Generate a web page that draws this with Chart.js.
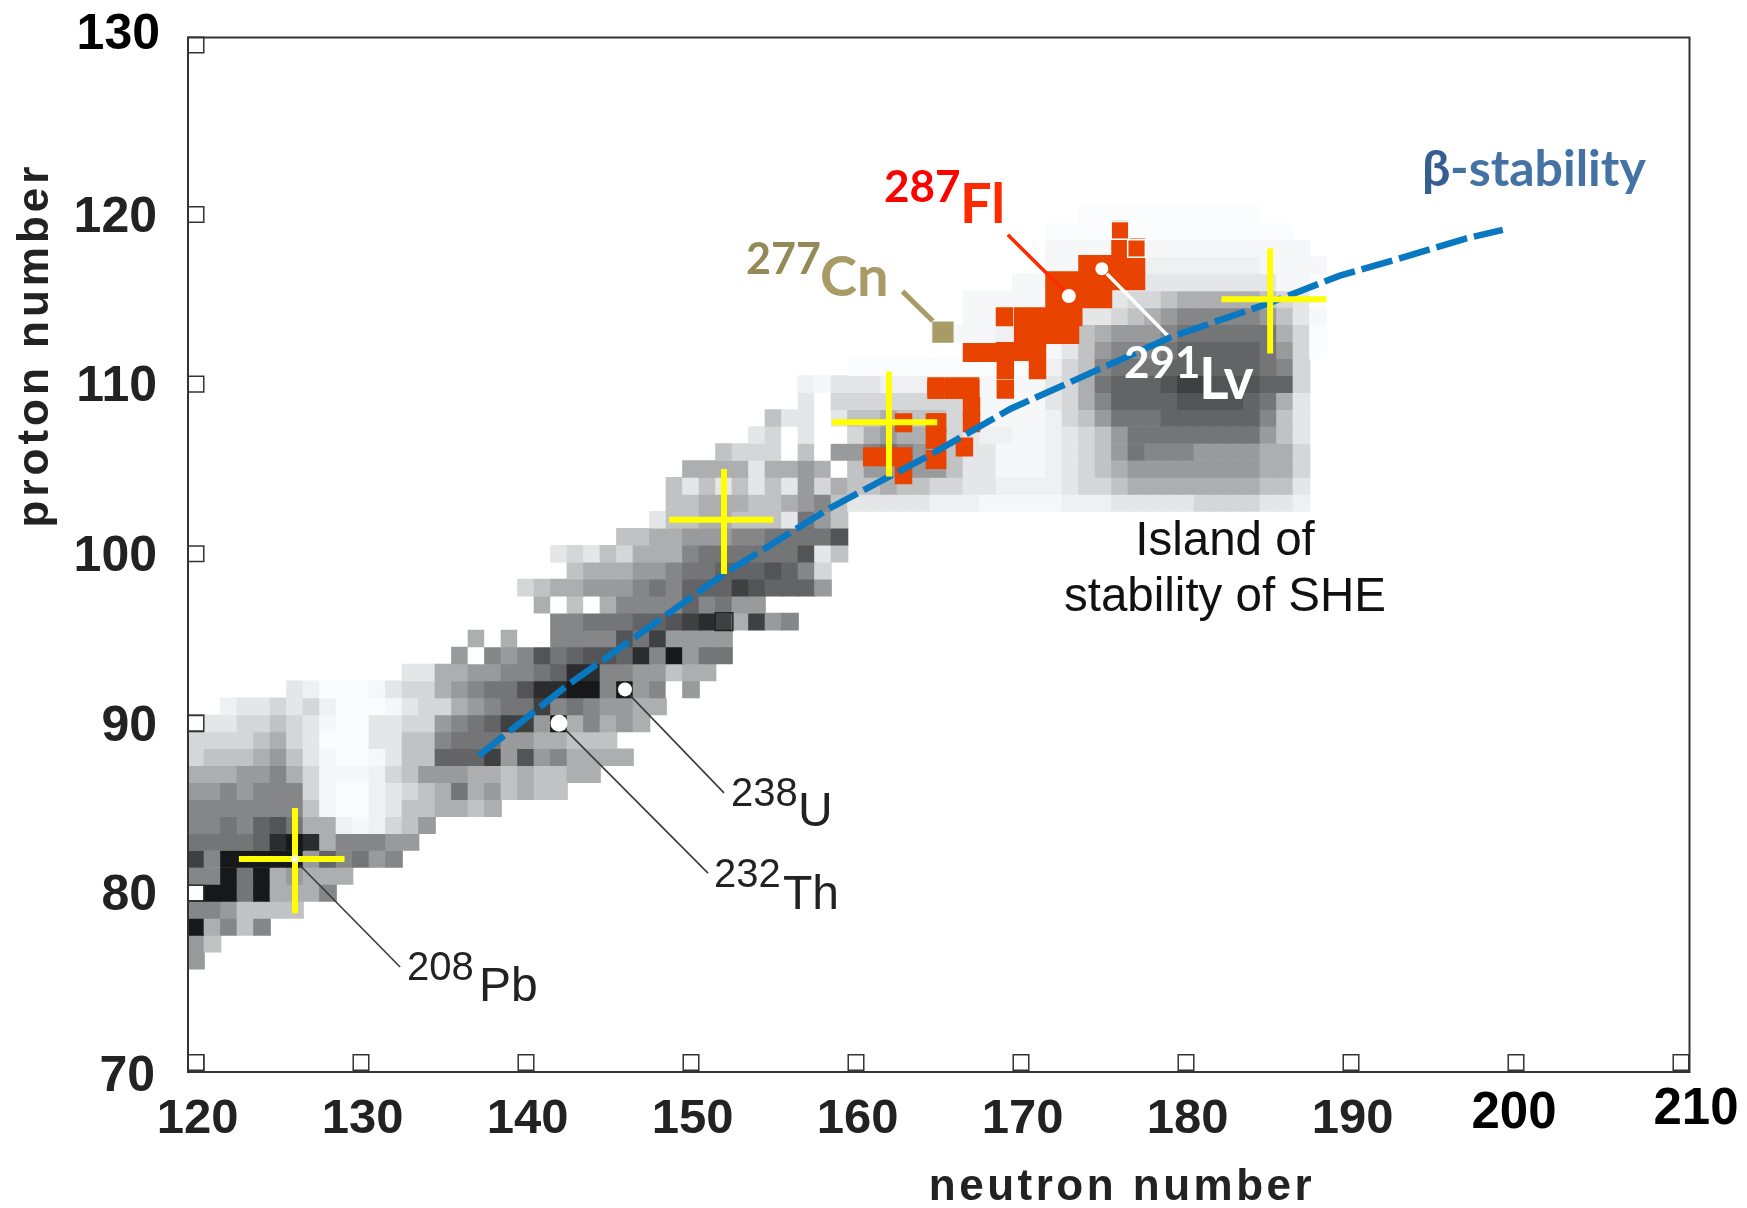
<!DOCTYPE html>
<html>
<head>
<meta charset="utf-8">
<title>Island of stability</title>
<script src="https://cdn.jsdelivr.net/npm/chart.js@4/dist/chart.umd.min.js"></script>
<style>
  html, body { margin: 0; padding: 0; background: #fff; }
  canvas { display: block; }
</style>
</head>
<body>
<canvas id="chart" width="1747" height="1208"></canvas>
<script>
// tick values
const neutronTicks = [120, 130, 140, 150, 160, 170, 180, 190, 200, 210];
const protonTicks = [70, 80, 90, 100, 110, 120, 130];

// grey cells, one row per proton number: [z, first n, levels]
// . , : are very faint, then 1..9 a b c go from light grey to black
const grayRows = [
  [76, 120, "5"],
  [77, 120, "53"],
  [78, 120, "c4636"],
  [79, 120, "6653333"],
  [80, 120, "ccc7c4446"],
  [81, 120, "66c7c45444"],
  [82, 120, "a6ccccc586756"],
  [83, 120, "77778bcb466655"],
  [84, 120, "667689744:,:235"],
  [85, 120, "66666663,..:1334434"],
  [86, 120, "55656662,..:12347453433"],
  [87, 120, "44455642,,,:2355544343344"],
  [88, 120, "23334531,..,133888a5956444 4"],
  [89, 120, "22223421...113367775544333"],
  [90, 120, "c1122321,..11225678aa5c46454"],
  [91, 122, ":11212:...,122456 77a67655 44"],
  [92, 126, "1:...,122456779bbcc6c5605"],
  [93, 133, "1144556678bb6655344"],
  [94, 136, "506569789 98b6c577"],
  [95, 137, "40400666697a5555"],
  [96, 142, "66777889aba4a56"],
  [97, 141, "40304666686755"],
  [98, 140, "2344555676888a98885"],
  [99, 143, "34445567788898 62"],
  [100, 142, "121324446777777913"],
  [101, 146, "33445556677779"],
  [102, 148, "133443331753"],
  [103, 149, "3344433456311111:::,,,,,:::11111222211:"],
  [104, 149, "3131313152433433 2211::::12234444444433 1"],
  [105, 150, "444414454035555531 1,,,:123455555555442"],
  [106, 152, "3222030556765431 1,,,:1235766655554 42"],
  [107, 154, "120100245444 21::,,:123577777777531"],
  [108, 155, "31101334333 21,,,,:235777888888631"],
  [109, 157, "10222222221,,,,1246888899998741"],
  [110, 157, ":,111::::::,,,,12478889aa99988 2"],
  [111, 160, "............:236777888888762"],
  [112, 172, ",13566678888 8752."],
  [113, 165, ",,,,:::::34555677777742."],
  [114, 167, ",,:::::112345666665 31,"],
  [115, 167, ",,,,,::::122344444321."],
  [116, 170, ",,::::::11111111,,."],
  [117, 172, ",,:::::::::::,,,,"],
  [118, 172, ",,,,,,,,,,,,,,,,"],
  [119, 172, "..............."],
  [120, 174, "..........."]
];
const levelGrays = {
  ".": 250, ",": 245, ":": 238, "1": 228, "2": 212, "3": 192, "4": 172, "5": 152,
  "6": 132, "7": 115, "8": 98, "9": 82, "a": 62, "b": 42, "c": 22, "0": 255
};

// red nuclei, [n, z]
const redCells = [
  [176, 119.07], [176, 118.03], [177, 118.03],
  [174, 117.06], [175, 117.06], [176, 117.06], [177, 117.06],
  [172, 116.1], [173, 116.1], [174, 116.1], [175, 116.1], [176, 116.1], [177, 116.1],
  [172, 115.04], [173, 115.04], [174, 115.04], [175, 115.04],
  [169, 113.98], [170.1, 113.98], [171.1, 113.98], [172.1, 113.98], [172.7, 113.98], [173.2, 113.98],
  [170.1, 112.92], [171.05, 112.92], [172, 112.92], [173, 112.92],
  [167, 111.86], [168, 111.86], [169, 111.92], [170, 111.92], [171, 111.92],
  [169.05, 110.85], [171, 110.85], [169.05, 109.7],
  [164.85, 109.84], [165.9, 109.84], [166.95, 109.84],
  [164.85, 109.68], [165.9, 109.68], [166.95, 109.68],
  [167, 108.69], [167, 107.73],
  [164.75, 107.73], [164.95, 107.73], [164.75, 106.75], [164.95, 106.75], [164.75, 105.55], [164.95, 105.55],
  [166.57, 106.29],
  [162.88, 107.73],
  [160.95, 105.72], [161.9, 105.72], [162.88, 105.72],
  [162.88, 104.66]
];

// beta stability line
const betaN = [137.15, 142.45, 152.06, 158.4, 164.25, 169.38, 179.1, 184.96, 189.33, 192.55, 197, 199.2];
const betaZ = [88.1, 92.2, 98.85, 102.68, 105.7, 108.55, 112.78, 114.75, 116.4, 117.3, 118.6, 119.1];

// yellow crosses: centre and arm ends
const crossN = [126, 152, 162, 185.1];
const crossZ = [82, 102, 107.75, 115];
const crossLeft = [122.6, 148.67, 158.55, 182.15];
const crossRight = [129, 155, 164.92, 188.51];
const crossTop = [85, 105, 110.74, 118];
const crossBottom = [78.8, 98.8, 104.56, 111.8];

// labelled nuclei
const whiteDots = [[142, 90], [146, 92], [172.9, 115.2], [174.9, 116.81]];
const dotSizes = [8.5, 7, 7, 6.5];
const leadLines = [
  { pts: [[126.3, 81.63], [132.37, 75.63]], color: "#3a3a3a", width: 1.6 },
  { pts: [[142.06, 89.94], [151.03, 81.17]], color: "#3a3a3a", width: 1.6 },
  { pts: [[146.06, 91.9], [152, 85.9]], color: "#3a3a3a", width: 1.6 },
  { pts: [[162.82, 115.47], [164.65, 113.72]], color: "#a89b66", width: 5 },
  { pts: [[169.2, 118.81], [172.8, 115.33]], color: "#ff2a00", width: 3.5 },
  { pts: [[175.2, 116.51], [178.97, 112.78]], color: "#ffffff", width: 3.5 }
];

const toXY = p => ({ x: p[0], y: p[1] });

const grayData = [];
const grayColors = [];
grayRows.forEach(([z, n0, levels]) => {
  [...levels.replace(/ /g, "")].forEach((c, i) => {
    const g = levelGrays[c];
    grayData.push({ x: n0 + i, y: [z - 0.5, z + 0.5] });
    grayColors.push(`rgb(${g},${Math.min(255, g + 2)},${Math.min(255, g + 4)})`);
  });
});

const tickSquares = [
  ...protonTicks.map(z => ({ x: 120, y: z })),
  ...neutronTicks.map(n => ({ x: n, y: 70 }))
];

const datasets = [
  {
    type: "bar", label: "map", order: 20, data: grayData, backgroundColor: grayColors,
    grouped: false, barThickness: 17
  },
  {
    type: "bar", label: "red", order: 19, grouped: false, barThickness: 16.8,
    data: redCells.map(([n, z]) => ({ x: n, y: [z - 0.54, z + 0.54] })),
    backgroundColor: "#e84400"
  },
  {
    type: "scatter", label: "ticks", order: 18, data: tickSquares,
    pointStyle: "rect", pointRadius: 11, pointBackgroundColor: "#fff",
    pointBorderColor: "#333", pointBorderWidth: 1.5, clip: false
  },
  {
    type: "scatter", label: "outlines", order: 17,
    data: [{ x: 152, y: 96 }, { x: 177, y: 118 }, { x: 176, y: 119.07 }],
    pointStyle: "rect", pointRadius: 12.5, pointBackgroundColor: "rgba(0,0,0,0)",
    pointBorderColor: ["#222", "#fff", "#fff"], pointBorderWidth: 1.5
  },
  {
    type: "scatter", label: "Cn", order: 16, data: [{ x: 165.27, y: 113.07 }],
    pointStyle: "rect", pointRadius: 15, pointBackgroundColor: "#a89b66", pointBorderWidth: 0
  }
];

leadLines.forEach((l, i) => {
  datasets.push({
    type: "line", label: "lead" + i, order: 15, data: l.pts.map(toXY),
    borderColor: l.color, borderWidth: l.width, pointRadius: 0, tension: 0
  });
});

datasets.push({
  type: "scatter", label: "dots", order: 14, data: whiteDots.map(toXY),
  pointStyle: "circle", pointRadius: dotSizes, pointBackgroundColor: "#fff", pointBorderWidth: 0
});
datasets.push({
  type: "line", label: "beta", order: 13, data: betaN.map((n, i) => ({ x: n, y: betaZ[i] })),
  borderColor: "#0878c3", borderWidth: 6.5, borderDash: [32, 7], pointRadius: 0, tension: 0
});

crossN.forEach((n, i) => {
  datasets.push({
    type: "line", label: "crossH" + i, order: 12,
    data: [{ x: crossLeft[i], y: crossZ[i] }, { x: crossRight[i], y: crossZ[i] }],
    borderColor: "#ffff00", borderWidth: 6, pointRadius: 0
  });
  datasets.push({
    type: "line", label: "crossV" + i, order: 12,
    data: [{ x: n, y: crossTop[i] }, { x: n, y: crossBottom[i] }],
    borderColor: "#ffff00", borderWidth: 6, pointRadius: 0
  });
});
datasets.push({
  type: "scatter", label: "Pb", order: 11, data: [{ x: 126, y: 82 }],
  pointStyle: "circle", pointRadius: 4, pointBackgroundColor: "#fffcd0", pointBorderWidth: 0
});

// text placed on the picture: x, baseline y, font, colour
const ARIAL = '"Liberation Sans"';
const notes = [
  { t: "130", x: 160, y: 49, align: "right", font: `bold 50px ${ARIAL}`, color: "#000" },
  { t: "70", x: 155, y: 1091, align: "right", font: `bold 50px ${ARIAL}`, color: "#222" },
  { t: "200", x: 1514, y: 1128, align: "center", font: `bold 51px ${ARIAL}`, color: "#000" },
  { t: "210", x: 1696, y: 1124, align: "center", font: `bold 51px ${ARIAL}`, color: "#000" },
  { t: "287", x: 884, y: 202, font: "bold 44px Lato", color: "#ff0000" },
  { t: "Fl", x: 960, y: 223, font: "bold 56px Lato", color: "#ff2a00" },
  { t: "277", x: 746, y: 274, font: "bold 43px Lato", color: "#948a58" },
  { t: "Cn", x: 820, y: 296, font: "bold 56px Lato", color: "#a89b66" },
  { t: "291", x: 1124, y: 378, font: "bold 44px Lato", color: "#fff" },
  { t: "Lv", x: 1199, y: 399, font: "bold 57px Lato", color: "#fff" },
  { t: "β", x: 1422, y: 186, font: "bold 50px Lato", color: "#365f91" },
  { t: "-stability", x: 1450, y: 186, font: "bold 50px Lato", color: "#4472a5" },
  { t: "Island of", x: 1225, y: 555, align: "center", font: `47.5px ${ARIAL}`, color: "#111" },
  { t: "stability of SHE", x: 1225, y: 611, align: "center", font: `47.5px ${ARIAL}`, color: "#111" },
  { t: "208", x: 407, y: 980, font: `40px ${ARIAL}`, color: "#222" },
  { t: "Pb", x: 479, y: 1001, font: `48px ${ARIAL}`, color: "#222" },
  { t: "238", x: 731, y: 806, font: `40px ${ARIAL}`, color: "#222" },
  { t: "U", x: 798, y: 826, font: `48px ${ARIAL}`, color: "#222" },
  { t: "232", x: 714, y: 887, font: `40px ${ARIAL}`, color: "#222" },
  { t: "Th", x: 783, y: 909, font: `48px ${ARIAL}`, color: "#222" },
  { t: "neutron number", x: 1122, y: 1200, align: "center", font: `bold 44px ${ARIAL}`, color: "#222", spacing: "3.5px" },
  { t: "proton number", x: 48, y: 345, align: "center", rotate: true, font: `bold 44px ${ARIAL}`, color: "#222", spacing: "4px" }
];

const framePlugin = {
  id: "frame",
  afterDatasetsDraw(chart) {
    const { ctx, chartArea: a } = chart;
    ctx.save();
    ctx.strokeStyle = "#333";
    ctx.lineWidth = 2;
    ctx.strokeRect(a.left, a.top, a.right - a.left, a.bottom - a.top);
    ctx.restore();
  }
};

const notesPlugin = {
  id: "notes",
  afterDraw(chart) {
    const ctx = chart.ctx;
    notes.forEach(n => {
      ctx.save();
      ctx.font = n.font;
      ctx.fillStyle = n.color;
      ctx.textAlign = n.align || "left";
      ctx.textBaseline = "alphabetic";
      ctx.letterSpacing = n.spacing || "0px";
      ctx.translate(n.x, n.y);
      if (n.rotate) ctx.rotate(-Math.PI / 2);
      ctx.fillText(n.t, 0, 0);
      ctx.restore();
    });
  }
};

new Chart(document.getElementById("chart"), {
  type: "bar",
  data: { datasets },
  plugins: [framePlugin, notesPlugin],
  options: {
    responsive: false,
    animation: false,
    layout: { padding: { top: 37.5, right: 57.5, left: 0, bottom: 0 } },
    plugins: { legend: { display: false }, tooltip: { enabled: false } },
    scales: {
      x: {
        type: "linear", min: 119.515, max: 210.515, offset: false,
        grid: { display: false }, border: { display: false },
        afterBuildTicks: s => { s.ticks = neutronTicks.map(v => ({ value: v })); },
        afterFit: s => { s.height = 136; s.paddingLeft = 0; s.paddingRight = 0; },
        ticks: {
          autoSkip: false, maxRotation: 0, padding: 10, color: "#222", labelOffset: 1.5,
          font: { family: "Liberation Sans", size: 49, weight: "bold" },
          callback: v => (v >= 200 ? "" : String(v))
        }
      },
      y: {
        type: "linear", min: 69.44, max: 130.44,
        grid: { display: false }, border: { display: false },
        afterBuildTicks: s => { s.ticks = protonTicks.map(v => ({ value: v })); },
        afterFit: s => { s.width = 188; s.paddingTop = 0; s.paddingBottom = 0; },
        ticks: {
          autoSkip: false, padding: 23, color: "#222", labelOffset: 3.5,
          font: { family: "Liberation Sans", size: 50, weight: "bold" },
          callback: v => (v === 130 || v === 70 ? "" : String(v))
        }
      }
    }
  }
});
</script>
</body>
</html>
